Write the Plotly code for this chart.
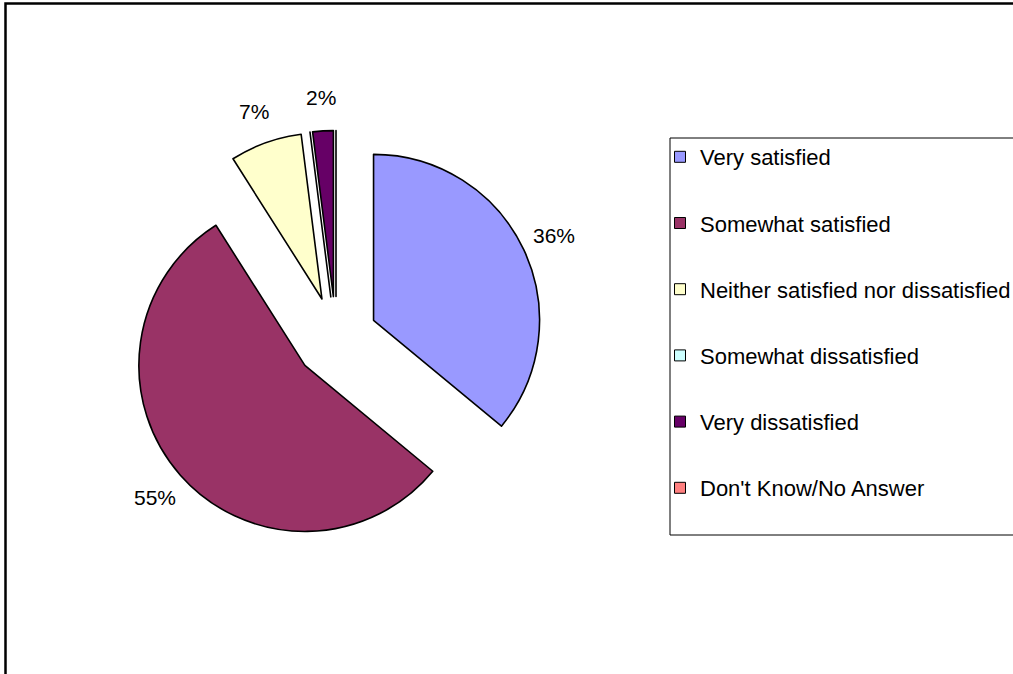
import numpy as np
import plotly.graph_objects as go

# Zufriedenheit - Anteile in %
labels = [
    "Very satisfied",
    "Somewhat satisfied",
    "Neither satisfied nor dissatisfied",
    "Somewhat dissatisfied",
    "Very dissatisfied",
    "Don't Know/No Answer",
]
values = [36, 55, 7, 0, 2, 0]
colors = ["#9999FF", "#993366", "#FFFFCC", "#CCFFFF", "#660066", "#FF8080"]

W, H = 1013, 674
FONT = "Liberation Sans, Arial"

# Kreis: Mittelpunkt ~ (336, 338) px, alle Stücke herausgezogen
cx, cy, box = 336, 338, 415
pull = 0.25
r = box / (2 * (1 + pull))

pie = go.Pie(
    labels=labels,
    values=values,
    textinfo="none",
    sort=False,
    direction="clockwise",
    rotation=0,
    pull=[pull] * len(values),
    marker=dict(colors=colors, line=dict(color="black", width=1.6)),
    domain=dict(
        x=[(cx - box / 2) / W, (cx + box / 2) / W],
        y=[1 - (cy + box / 2) / H, 1 - (cy - box / 2) / H],
    ),
    showlegend=False,
    hoverinfo="label+percent",
)

fig = go.Figure(data=[pie])

# Legende über unsichtbare Hilfs-Traces (damit der Abstand einstellbar ist)
for lab, col in zip(labels, colors):
    fig.add_trace(go.Scatter(
        x=[None], y=[None], mode="markers", name=lab, legendgroup=lab,
        marker=dict(symbol="square", size=11, color=col,
                    line=dict(color="black", width=1)),
    ))

# Prozent-Beschriftungen außen (wie Excel, ohne Verbindungslinien)
total = sum(values)
cum = np.cumsum([0] + values[:-1])
annotations = []
for v, c0 in zip(values, cum):
    if v == 0:
        continue
    theta = np.radians(360 * (c0 + v / 2) / total)
    d = (pull + 1.2) * r
    px = cx + d * np.sin(theta)
    py = cy - d * np.cos(theta)
    annotations.append(dict(
        x=px / W, y=1 - py / H, xref="paper", yref="paper",
        text=f"{round(100 * v / total)}%", showarrow=False,
        xanchor="center", yanchor="middle",
        font=dict(family=FONT, size=21, color="black"),
    ))

fig.update_layout(
    width=W,
    height=H,
    margin=dict(l=0, r=0, t=0, b=0, autoexpand=False),
    paper_bgcolor="white",
    plot_bgcolor="white",
    font=dict(family=FONT, size=21, color="black"),
    xaxis=dict(visible=False),
    yaxis=dict(visible=False),
    showlegend=True,
    legend=dict(
        x=660 / W,
        y=1 - 136 / H,
        xanchor="left",
        yanchor="top",
        traceorder="grouped",
        tracegroupgap=34.6,
        bgcolor="rgba(0,0,0,0)",
        borderwidth=0,
        font=dict(family=FONT, size=22, color="black"),
    ),
    annotations=annotations,
    shapes=[
        # Rahmen um das ganze Diagramm (rechts/unten abgeschnitten)
        dict(type="rect", xref="paper", yref="paper",
             x0=5.5 / W, x1=1.2, y0=-0.2, y1=1 - 3.5 / H,
             line=dict(color="black", width=2.5), fillcolor="rgba(0,0,0,0)"),
        # Legendenrahmen
        dict(type="rect", xref="paper", yref="paper",
             x0=670 / W, x1=1.1, y0=1 - 535 / H, y1=1 - 138 / H,
             line=dict(color="black", width=1), fillcolor="rgba(0,0,0,0)"),
    ],
)

fig.write_html("out.html", config={"displayModeBar": False},
               post_script="document.body.style.margin='0';")
